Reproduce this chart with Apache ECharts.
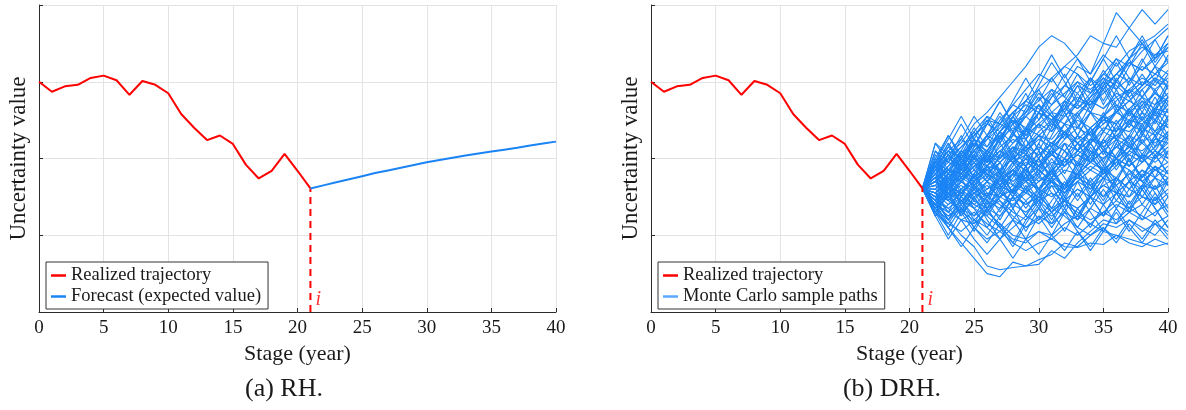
<!DOCTYPE html>
<html>
<head>
<meta charset="utf-8">
<script src="https://cdn.jsdelivr.net/npm/echarts@6/dist/echarts.min.js"></script>
<style>html,body{margin:0;padding:0;background:#fff}#c{width:1186px;height:410px}</style>
</head>
<body>
<div id="c"></div>
<script>
// ---- data ----
const realizedYears = [0,1,2,3,4,5,6,7,8,9,10,11,12,13,14,15,16,17,18,19,20,21];
const realizedValues = [3.00,2.87,2.94,2.96,3.05,3.08,3.02,2.83,3.01,2.96,2.85,2.58,2.40,2.24,2.30,2.19,1.92,1.74,1.84,2.06,1.84,1.61];
const forecastYears = [21,22,23,24,25,26,27,28,29,30,31,32,33,34,35,36,37,38,39,40];
const forecastValues = [1.61,1.65,1.69,1.73,1.77,1.81,1.845,1.88,1.915,1.95,1.98,2.01,2.04,2.065,2.09,2.115,2.14,2.17,2.195,2.22];
const decisionStage = 21;
const xTicks = [0,5,10,15,20,25,30,35,40];
const mcPaths = [
[1.61,1.85,2.05,2.2,2.45,2.6,2.8,3.0,3.2,3.45,3.6,3.5,3.3,3.1,3.5,3.9,3.7,3.5,3.3,3.6],
[1.61,1.9,2.1,2.0,2.3,2.5,2.45,2.7,2.9,3.1,3.0,3.2,3.35,3.6,3.5,3.45,3.7,3.94,3.75,3.94],
[1.61,1.3,1.1,0.9,0.7,0.5,0.46,0.65,0.6,0.68,0.75,0.9,0.85,1.0,1.1,0.95,1.2,1.1,1.0,1.2],
[1.61,1.45,1.2,1.0,0.85,0.6,0.55,0.58,0.6,0.62,0.8,0.7,0.9,1.05,1.2,1.15,1.3,1.4,1.25,1.5],
[1.61,1.4,1.25,1.35,1.1,0.95,1.05,0.9,0.8,0.9,0.95,0.85,0.84,0.9,0.88,1.0,0.95,0.9,0.85,0.9],
[1.61,1.5,1.3,1.2,1.15,1.3,1.15,1.0,0.95,1.05,0.95,1.1,1.0,1.15,1.05,1.0,0.9,0.85,0.95,0.88],
[1.61,1.75,1.9,2.1,2.0,2.25,2.5,2.7,2.6,2.85,2.7,2.95,3.2,3.1,3.35,3.2,3.4,3.5,3.6,3.75],
[1.61,1.8,1.7,1.95,2.2,2.1,2.35,2.2,2.4,2.6,2.5,2.7,2.95,2.85,3.1,3.0,3.25,3.15,3.35,3.4],
[1.61,1.7,1.85,1.8,2.0,1.95,2.15,2.3,2.25,2.45,2.6,2.55,2.75,2.7,2.9,3.1,3.0,3.2,3.1,3.3],
[1.61,1.55,1.75,1.7,1.9,2.05,1.95,2.15,2.1,2.3,2.25,2.45,2.4,2.6,2.55,2.75,2.9,2.8,3.0,2.95],
[1.61,1.5,1.6,1.45,1.55,1.7,1.6,1.8,1.75,1.9,2.05,1.95,2.1,2.25,2.2,2.4,2.35,2.5,2.65,2.6],
[1.61,1.7,1.6,1.8,1.7,1.9,1.85,2.0,2.15,2.05,2.2,2.1,2.3,2.2,2.4,2.35,2.5,2.45,2.6,2.55],
[1.61,1.45,1.35,1.5,1.4,1.55,1.5,1.65,1.6,1.75,1.7,1.85,1.8,1.95,2.1,2.0,2.15,2.1,2.25,2.2],
[1.61,1.8,1.95,1.85,2.0,1.9,1.75,1.85,1.7,1.8,1.95,1.9,2.05,1.95,2.1,2.0,1.9,2.05,2.0,2.15],
[1.61,1.9,1.8,2.05,2.25,2.15,2.35,2.5,2.4,2.3,2.45,2.35,2.2,2.35,2.5,2.45,2.65,2.8,2.7,2.85],
[1.61,1.35,1.5,1.3,1.45,1.35,1.25,1.4,1.3,1.45,1.55,1.45,1.6,1.5,1.4,1.55,1.5,1.65,1.6,1.7],
[1.61,1.65,1.5,1.6,1.45,1.35,1.45,1.3,1.2,1.35,1.25,1.4,1.3,1.2,1.3,1.2,1.35,1.25,1.15,1.25],
[1.61,1.75,1.65,1.55,1.7,1.85,1.75,1.95,1.85,1.7,1.8,1.65,1.75,1.9,1.8,1.95,2.1,2.0,1.85,1.95],
[1.61,1.55,1.7,1.85,1.75,1.9,2.05,1.95,2.1,2.25,2.15,2.3,2.2,2.35,2.5,2.6,2.5,2.7,2.85,2.75],
[1.61,2.2,2.05,1.9,2.1,2.3,2.2,2.45,2.55,2.4,2.6,2.75,2.65,2.85,3.0,2.9,3.05,2.95,3.2,3.1],
[1.61,1.4,1.55,1.65,1.5,1.6,1.75,1.65,1.55,1.7,1.85,2.0,1.9,2.05,2.2,2.3,2.2,2.4,2.3,2.45],
[1.61,1.7,1.9,2.05,1.95,1.8,1.95,2.1,2.0,2.15,2.05,1.9,2.05,2.2,2.35,2.25,2.45,2.6,2.5,2.7],
[1.61,1.25,1.4,1.55,1.4,1.3,1.5,1.6,1.45,1.6,1.75,1.65,1.8,1.7,1.85,1.75,1.6,1.75,1.9,1.8],
[1.61,1.6,1.45,1.3,1.2,1.35,1.5,1.4,1.55,1.45,1.3,1.45,1.35,1.5,1.65,1.55,1.7,1.85,1.75,1.9],
[1.61,1.85,2.0,2.15,2.3,2.45,2.35,2.55,2.7,2.6,2.8,2.95,2.85,3.05,2.9,3.1,3.25,3.15,3.3,3.45],
[1.61,1.5,1.35,1.2,1.3,1.15,1.05,1.2,1.1,1.25,1.15,1.3,1.2,1.35,1.25,1.4,1.3,1.2,1.3,1.4],
[1.61,1.65,1.8,1.7,1.55,1.65,1.5,1.6,1.75,1.9,1.8,1.95,2.1,2.0,1.85,2.0,2.15,2.3,2.2,2.35],
[1.61,1.95,1.85,1.75,1.9,2.0,1.85,1.7,1.85,2.0,2.2,2.1,1.95,1.85,2.0,2.15,2.05,2.2,2.35,2.25],
[1.61,1.4,1.3,1.45,1.6,1.75,1.65,1.8,1.95,1.85,1.7,1.6,1.75,1.65,1.8,1.95,1.85,1.7,1.6,1.75],
[1.61,1.75,1.6,1.75,1.9,1.8,1.65,1.55,1.4,1.5,1.35,1.45,1.6,1.5,1.65,1.75,1.6,1.5,1.4,1.55],
[1.61,1.55,1.45,1.6,1.75,1.9,2.1,2.25,2.15,2.35,2.5,2.65,2.55,2.75,2.65,2.85,2.75,2.95,3.1,3.0],
[1.61,1.8,2.0,1.9,2.1,2.25,2.4,2.6,2.75,2.9,3.05,3.2,3.1,2.95,3.1,3.3,3.2,3.4,3.55,3.7],
[1.61,1.45,1.6,1.5,1.35,1.5,1.4,1.25,1.1,1.2,1.35,1.25,1.1,1.0,1.15,1.1,1.2,1.05,1.15,1.05],
[1.61,1.7,1.55,1.7,1.85,1.7,1.85,2.0,2.15,2.3,2.2,2.35,2.5,2.4,2.55,2.7,2.6,2.75,2.65,2.8],
[1.61,1.9,2.1,2.25,2.1,1.95,2.1,1.95,2.05,1.9,2.05,2.2,2.1,2.25,2.15,2.3,2.45,2.35,2.5,2.4],
[1.61,1.35,1.2,1.35,1.25,1.4,1.55,1.45,1.6,1.5,1.65,1.55,1.7,1.85,1.75,1.9,2.05,1.95,2.1,2.0],
[1.61,1.6,1.75,1.9,2.05,1.95,2.1,2.0,1.9,2.05,2.2,2.35,2.25,2.4,2.55,2.45,2.6,2.5,2.35,2.5],
[1.61,1.5,1.65,1.8,1.95,2.1,2.0,2.2,2.35,2.5,2.7,2.85,3.0,2.9,3.05,2.95,2.8,2.95,3.1,3.25],
[1.61,1.75,1.85,1.7,1.6,1.5,1.65,1.55,1.7,1.6,1.5,1.65,1.8,1.95,1.85,2.0,1.9,2.05,1.95,2.1],
[1.61,1.65,1.55,1.45,1.35,1.25,1.1,0.95,0.9,1.05,1.0,1.15,1.25,1.15,1.3,1.45,1.35,1.5,1.45,1.6],
[1.61,1.85,1.75,1.6,1.75,1.6,1.7,1.85,2.0,1.9,2.05,2.25,2.4,2.3,2.45,2.6,2.75,2.9,3.05,2.95],
[1.61,1.55,1.4,1.55,1.7,1.85,2.0,2.15,2.05,1.95,2.1,2.0,2.2,2.1,2.0,2.15,2.3,2.2,2.05,2.2],
[1.61,2.1,1.95,2.15,2.35,2.55,2.45,2.35,2.55,2.7,2.55,2.45,2.6,2.75,2.65,2.8,2.9,3.05,2.95,3.15],
[1.61,1.3,1.15,1.05,1.2,1.1,0.95,1.1,1.25,1.15,1.3,1.45,1.35,1.5,1.65,1.55,1.7,1.6,1.75,1.65],
[1.61,1.7,1.85,2.0,2.2,2.1,2.3,2.45,2.6,2.75,2.9,2.8,2.65,2.8,2.95,3.1,3.3,3.45,3.35,3.5],
[1.61,1.45,1.6,1.75,1.65,1.8,1.7,1.85,1.75,1.6,1.75,1.9,2.05,1.95,2.1,2.25,2.15,2.0,2.15,2.3],
[1.61,1.8,1.65,1.8,1.65,1.5,1.65,1.8,1.7,1.85,1.7,1.55,1.7,1.6,1.75,1.65,1.8,1.7,1.85,1.75],
[1.61,1.6,1.8,1.95,2.1,2.3,2.45,2.6,2.75,2.65,2.5,2.65,2.8,2.7,2.85,3.0,2.85,3.0,2.9,3.05],
[1.61,1.4,1.25,1.4,1.55,1.45,1.35,1.5,1.4,1.55,1.7,1.6,1.75,1.65,1.5,1.65,1.8,1.95,2.1,1.95],
[1.61,1.95,2.15,2.0,2.2,2.05,2.25,2.4,2.3,2.45,2.35,2.55,2.7,2.6,2.45,2.6,2.75,2.65,2.85,2.7],
[1.61,1.95,1.6,1.9,2.25,1.95,2.3,2.0,2.35,2.7,2.4,2.75,2.45,2.2,2.55,2.9,2.6,2.3,2.65,2.4],
[1.61,1.25,1.55,1.3,1.65,1.4,1.75,2.05,1.7,2.0,1.7,1.45,1.8,2.1,1.85,2.2,1.9,2.25,2.0,2.3],
[1.61,1.9,2.2,1.85,2.15,2.5,2.2,2.55,2.85,2.5,2.8,3.1,2.75,3.05,2.7,3.0,3.3,2.95,3.2,2.9],
[1.61,1.3,1.0,1.3,1.05,1.35,1.1,0.85,1.15,1.4,1.15,1.45,1.2,1.5,1.25,1.55,1.3,1.6,1.35,1.1],
[1.61,2.0,1.7,2.05,1.75,1.5,1.85,1.55,1.9,2.2,1.9,1.6,1.95,2.25,2.55,2.25,2.6,2.9,2.6,2.95],
[1.61,1.35,1.65,1.95,1.65,1.35,1.65,1.35,1.05,1.35,1.65,1.35,1.7,1.4,1.7,2.0,1.7,2.05,1.75,2.1],
[1.61,1.9,1.65,1.95,2.25,2.55,2.25,2.55,2.25,2.6,2.9,2.6,2.3,2.6,2.95,2.65,3.0,3.3,3.0,3.35],
[1.61,1.4,1.15,1.4,1.7,1.45,1.2,1.5,1.25,1.55,1.3,1.05,1.35,1.1,1.4,1.15,1.45,1.2,1.5,1.25],
[1.61,2.0,2.3,2.0,1.75,2.05,2.35,2.05,2.4,2.1,1.85,2.2,1.9,2.25,2.55,2.25,1.95,2.3,2.6,2.3],
[1.61,1.45,1.75,1.5,1.8,1.55,1.3,1.6,1.9,1.6,1.35,1.65,1.95,1.65,1.4,1.7,2.0,1.7,1.45,1.75],
[1.61,1.85,2.15,2.45,2.15,2.45,2.75,2.45,2.75,3.05,3.35,3.05,3.3,3.0,3.3,3.6,3.3,3.55,3.25,3.5],
[1.61,1.3,1.55,1.25,1.5,1.2,0.95,1.2,0.95,1.25,1.0,1.3,1.05,0.8,1.05,1.35,1.1,0.9,1.15,0.95],
[1.61,1.75,2.05,1.75,2.05,1.75,2.05,2.35,2.05,1.8,2.1,1.8,2.1,2.4,2.1,2.45,2.15,2.45,2.15,2.5],
[1.61,1.5,1.2,1.5,1.8,1.5,1.8,1.55,1.85,1.6,1.9,2.2,1.9,2.2,1.95,1.7,2.0,1.75,2.05,1.8],
[1.61,1.95,1.7,2.0,1.75,2.05,1.8,2.1,2.4,2.1,2.4,2.7,2.4,2.7,3.0,2.7,2.45,2.75,2.5,2.8],
[1.61,1.4,1.7,1.4,1.15,1.45,1.75,1.5,1.8,2.1,1.8,2.1,1.85,2.15,1.9,2.2,2.5,2.2,2.5,2.25],
[1.61,1.8,1.5,1.75,1.45,1.7,1.95,1.65,1.9,1.6,1.85,1.55,1.8,1.5,1.75,1.45,1.7,1.4,1.65,1.35],
[1.61,2.05,1.8,2.1,2.4,2.15,2.45,2.75,3.05,2.75,3.05,2.8,3.1,2.85,3.15,2.9,3.2,3.5,3.2,3.45],
[1.61,1.35,1.1,1.35,1.1,0.9,1.15,0.9,1.2,1.45,1.2,1.5,1.25,1.55,1.85,1.55,1.85,1.6,1.9,1.65],
[1.61,1.75,1.45,1.7,2.0,1.75,2.05,2.35,2.1,1.85,2.15,2.45,2.2,1.95,2.25,2.0,2.3,2.6,2.35,2.65],
[1.61,1.9,2.2,1.95,1.7,2.0,1.75,2.05,1.8,1.55,1.85,1.6,1.9,2.2,1.95,2.25,2.0,1.75,2.05,1.8],
[1.61,1.45,1.2,1.45,1.25,1.5,1.75,1.5,1.75,2.0,1.75,2.0,2.3,2.05,2.35,2.65,2.4,2.7,2.45,2.75],
[1.61,1.7,2.0,2.3,2.0,2.3,2.0,2.3,2.6,2.9,2.6,2.3,2.6,2.3,2.05,2.35,2.65,2.35,2.65,2.95],
[1.61,1.55,1.3,1.6,1.35,1.1,1.35,1.6,1.35,1.6,1.85,1.6,1.85,1.6,1.9,1.65,1.4,1.65,1.9,1.65],
[1.61,2.0,1.75,1.5,1.8,2.1,1.85,2.15,1.9,2.2,2.5,2.25,2.55,2.3,2.6,2.35,2.65,2.4,2.7,3.0],
[1.61,1.3,1.6,1.9,1.6,1.9,1.65,1.95,1.7,1.45,1.75,1.5,1.8,1.55,1.85,1.6,1.35,1.65,1.4,1.7],
[1.61,1.85,1.6,1.35,1.6,1.35,1.6,1.35,1.65,1.4,1.7,1.45,1.2,1.5,1.25,1.55,1.3,1.6,1.35,1.1],
[1.61,1.95,2.25,2.55,2.25,1.95,2.25,2.55,2.3,2.6,2.35,2.65,2.95,2.65,2.95,3.25,2.95,3.25,3.55,3.25],
[1.61,1.4,1.65,1.4,1.65,1.9,1.65,1.9,2.15,1.9,2.15,1.9,2.2,1.95,2.25,2.5,2.25,2.55,2.3,2.0],
[1.61,1.8,2.05,1.8,2.05,1.8,1.55,1.8,2.05,2.3,2.05,2.35,2.1,2.4,2.15,1.9,2.2,1.95,2.25,2.55],
[1.61,1.25,0.95,1.2,0.95,0.75,0.95,0.7,0.95,0.75,1.0,0.8,1.05,0.85,1.1,0.9,1.15,0.95,1.2,1.0],
[1.61,2.2,1.95,2.25,2.55,2.3,2.6,2.35,2.65,2.95,3.25,3.0,2.7,3.0,3.3,3.0,3.3,3.6,3.3,3.6],
[1.61,1.5,1.75,2.0,2.25,2.0,2.25,2.5,2.25,2.0,1.75,2.0,1.75,2.0,2.25,2.0,2.25,2.0,2.3,2.05],
[1.61,1.7,1.45,1.7,1.95,1.7,1.45,1.2,1.45,1.2,1.45,1.7,1.45,1.7,1.45,1.75,1.5,1.8,1.55,1.3],
[1.61,1.9,1.6,1.9,2.2,1.9,2.2,1.95,2.25,2.0,2.3,2.6,2.3,2.6,2.9,2.6,2.9,2.6,2.9,2.6],
[1.61,1.4,1.1,0.85,1.1,1.35,1.1,1.35,1.6,1.35,1.1,1.35,1.1,1.35,1.6,1.35,1.6,1.85,1.6,1.85],
[1.61,1.85,2.1,1.85,2.15,2.45,2.75,2.45,2.15,2.45,2.15,2.45,2.75,3.05,2.75,3.05,2.8,2.5,2.8,2.5],
[1.61,1.55,1.8,1.55,1.8,2.05,1.8,1.55,1.8,1.55,1.3,1.55,1.8,2.05,1.8,2.05,2.3,2.05,2.3,2.55],
[1.61,1.35,1.6,1.85,2.1,1.85,1.6,1.85,1.6,1.85,2.1,2.35,2.1,2.35,2.1,1.85,2.1,2.35,2.1,2.35],
[1.61,1.75,1.5,1.25,1.5,1.25,1.5,1.75,2.0,1.75,2.0,1.75,1.5,1.75,1.5,1.75,2.0,1.75,2.0,2.25],
[1.61,2.1,1.85,2.1,1.85,2.1,2.35,2.6,2.35,2.6,2.85,2.6,2.85,2.6,2.35,2.6,2.85,3.1,2.85,3.1],
[1.61,1.45,1.7,1.45,1.2,1.0,1.25,1.5,1.25,1.5,1.75,1.5,1.25,1.5,1.75,2.0,1.75,1.5,1.75,1.5],
[1.61,1.8,1.55,1.8,2.05,2.3,2.55,2.3,2.55,2.8,2.55,2.3,2.55,2.8,3.05,2.8,2.55,2.8,2.55,2.8],
[1.61,1.3,1.55,1.3,1.55,1.3,1.55,1.8,1.55,1.8,1.55,1.3,1.55,1.3,1.05,1.3,1.05,1.3,1.55,1.3],
[1.61,1.95,2.3,2.05,2.35,2.05,1.8,2.1,2.4,2.7,2.45,2.75,3.0,2.75,3.0,3.3,3.05,2.8,3.05,2.8]
];

// ---- style ----
const FONT = "'Liberation Serif', 'DejaVu Serif', serif";
const RED = '#ff0000';
const BLUE = '#1a84f5';
const BLUE_LIGHT = '#5aa8ff';
const AXIS = '#2b2b2b';
const GRID = '#e3e3e3';

function zip(xs, ys) { return xs.map((x, i) => [x, ys[i]]); }

function makeX(gi) {
  return {
    type: 'value', gridIndex: gi, min: xTicks[0], max: xTicks[xTicks.length - 1], interval: xTicks[1] - xTicks[0],
    name: 'Stage (year)', nameLocation: 'middle', nameGap: 31,
    nameTextStyle: { fontFamily: FONT, fontSize: 22, color: '#1a1a1a' },
    axisLine: { show: true, onZero: false, lineStyle: { color: AXIS, width: 1 } },
    axisTick: { show: true, inside: true, length: 4, lineStyle: { color: AXIS } },
    axisLabel: { fontFamily: FONT, fontSize: 19, color: '#1a1a1a', margin: 7 },
    splitLine: { show: true, lineStyle: { color: GRID, width: 1 } }
  };
}
function makeY(gi) {
  return {
    type: 'value', gridIndex: gi, min: 0, max: 4, interval: 1,
    name: 'Uncertainty value', nameLocation: 'middle', nameGap: 9, nameRotate: 90,
    nameTextStyle: { fontFamily: FONT, fontSize: 23, color: '#1a1a1a' },
    axisLine: { show: true, onZero: false, lineStyle: { color: AXIS, width: 1 } },
    axisTick: { show: true, inside: true, length: 4, lineStyle: { color: AXIS } },
    axisLabel: { show: false },
    splitLine: { show: true, lineStyle: { color: GRID, width: 1 } }
  };
}
function realizedSeries(gi) {
  return {
    name: 'Realized trajectory', type: 'line', xAxisIndex: gi, yAxisIndex: gi,
    data: zip(realizedYears, realizedValues), symbol: 'none', z: 5,
    lineStyle: { color: RED, width: 2 }, itemStyle: { color: RED }
  };
}
function markerSeries(gi) {
  const v = realizedValues[realizedYears.indexOf(decisionStage)];
  return [{
    type: 'line', xAxisIndex: gi, yAxisIndex: gi, silent: true, z: 4,
    data: [[decisionStage, 0], [decisionStage, v]], symbol: 'none',
    lineStyle: { color: RED, width: 2, type: [7, 5] }
  }, {
    type: 'scatter', xAxisIndex: gi, yAxisIndex: gi, silent: true, z: 6,
    data: [[decisionStage, 0]], symbolSize: 0,
    label: { show: true, formatter: 'i', position: [5, -22], align: 'left',
      fontFamily: FONT, fontStyle: 'italic', fontSize: 20, color: RED }
  }];
}
function makeLegend(names, left) {
  return {
    orient: 'vertical', left: left, top: 262, padding: [4, 7, 3, 5], itemGap: 2,
    itemWidth: 15, itemHeight: 2.5, icon: 'rect',
    borderColor: '#333', borderWidth: 1, backgroundColor: '#fff',
    borderRadius: 0, selectedMode: false,
    textStyle: { fontFamily: FONT, fontSize: 18.5, lineHeight: 19, color: '#1a1a1a' },
    data: names
  };
}

const series = [];
// left panel
series.push(realizedSeries(0));
series.push({
  name: 'Forecast (expected value)', type: 'line', xAxisIndex: 0, yAxisIndex: 0,
  data: zip(forecastYears, forecastValues), symbol: 'none', z: 5,
  lineStyle: { color: BLUE, width: 2 }, itemStyle: { color: BLUE }
});
series.push(...markerSeries(0));
// right panel
mcPaths.forEach(p => {
  series.push({
    name: 'Monte Carlo sample paths', type: 'line', xAxisIndex: 1, yAxisIndex: 1,
    data: zip(forecastYears, p), symbol: 'none', z: 3, silent: true,
    lineStyle: { color: BLUE, width: 1.1 }, itemStyle: { color: BLUE_LIGHT }
  });
});
series.push(realizedSeries(1));
series.push(...markerSeries(1));

const chart = echarts.init(document.getElementById('c'), null, { renderer: 'canvas' });
chart.setOption({
  animation: false,
  backgroundColor: '#fff',
  grid: [
    { left: 39, top: 5, width: 517, height: 307 },
    { left: 651, top: 5, width: 517, height: 307 }
  ],
  xAxis: [makeX(0), makeX(1)],
  yAxis: [makeY(0), makeY(1)],
  legend: [
    makeLegend(['Realized trajectory', 'Forecast (expected value)'], 46),
    makeLegend(['Realized trajectory', { name: 'Monte Carlo sample paths', itemStyle: { color: BLUE_LIGHT } }], 658)
  ],
  graphic: [
    { type: 'text', x: 284, y: 389, style: { text: '(a) RH.', font: "26px 'Liberation Serif', serif", fill: '#1a1a1a', textAlign: 'center', textVerticalAlign: 'middle' } },
    { type: 'text', x: 892, y: 389, style: { text: '(b) DRH.', font: "26px 'Liberation Serif', serif", fill: '#1a1a1a', textAlign: 'center', textVerticalAlign: 'middle' } }
  ],
  series: series
});
</script>
</body>
</html>
